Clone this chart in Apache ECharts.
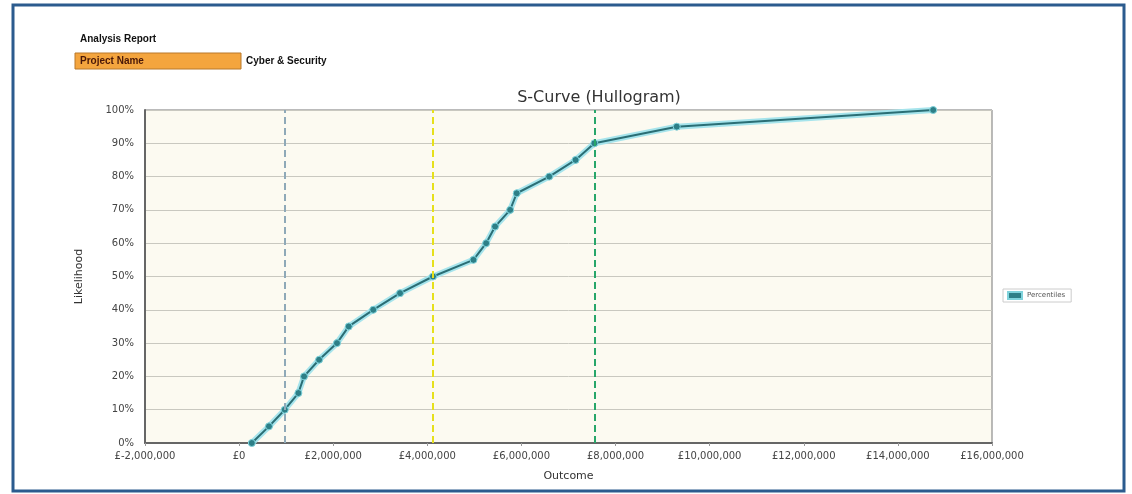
<!DOCTYPE html>
<html>
<head>
<meta charset="utf-8">
<script src="https://cdn.jsdelivr.net/npm/echarts@6/dist/echarts.min.js"></script>
<style>
html,body{margin:0;padding:0;background:#fff;}
#chart{width:1132px;height:494px;}
</style>
</head>
<body>
<div id="chart"></div>
<script>
// ---- data ----
var percentiles = [0, 5, 10, 15, 20, 25, 30, 35, 40, 45, 50, 55, 60, 65, 70, 75, 80, 85, 90, 95, 100];
var outcomes = [270000, 635000, 970000, 1260000, 1380000, 1700000, 2080000, 2330000, 2850000, 3420000,
                4120000, 4980000, 5250000, 5440000, 5760000, 5900000, 6590000, 7150000, 7550000, 9300000, 14750000];
var markerValues = [970000, 4110000, 7550000];   // P10, P50, P90 lines
var markerColors = ['#8fa9b8', '#e6e01c', '#27a66a'];
var seriesName = 'Percentiles';
var chartTitle = 'S-Curve (Hullogram)';
var xAxisName = 'Outcome';
var yAxisName = 'Likelihood';
var headerTitle = 'Analysis Report';
var projectLabel = 'Project Name';
var projectValue = 'Cyber & Security';

var pts = outcomes.map(function (v, i) { return [v, percentiles[i] / 100]; });

function fmtMoney(v) {
  var neg = v < 0;
  var s = Math.abs(v).toString().replace(/\B(?=(\d{3})+(?!\d))/g, ',');
  return neg ? '£-' + s : '£' + s;
}

var chart = echarts.init(document.getElementById('chart'));
var font = 'DejaVu Sans';
chart.setOption({
  backgroundColor: '#ffffff',
  animation: false,
  title: {
    text: chartTitle,
    left: 594, top: 85,
    textAlign: 'center',
    textStyle: { fontFamily: font, fontSize: 16, fontWeight: 'normal', color: '#333' }
  },
  legend: {
    data: [seriesName],
    left: 1003, top: 289,
    orient: 'vertical',
    icon: 'rect',
    itemWidth: 14, itemHeight: 7,
    itemGap: 4,
    padding: [2, 6, 2, 4],
    borderColor: '#cccccc', borderWidth: 1,
    textStyle: { fontFamily: font, fontSize: 7, color: '#555' }
  },
  grid: {
    left: 145, right: 140, top: 110, bottom: 51,
    show: true, backgroundColor: '#fcfaf1', borderColor: '#777', borderWidth: 1
  },
  xAxis: {
    type: 'value', min: -2000000, max: 16000000, interval: 2000000,
    name: xAxisName, nameLocation: 'middle', nameGap: 28,
    nameTextStyle: { fontFamily: font, fontSize: 11, color: '#333' },
    axisLine: { show: true, onZero: false, lineStyle: { color: '#666', width: 2 } },
    axisTick: { show: true, length: 3, lineStyle: { color: '#999' } },
    axisLabel: { formatter: fmtMoney, fontFamily: font, fontSize: 10, color: '#444', margin: 8 },
    splitLine: { show: false }
  },
  yAxis: {
    type: 'value', min: 0, max: 1, interval: 0.1,
    name: yAxisName, nameLocation: 'middle', nameGap: 60, nameRotate: 90,
    nameTextStyle: { fontFamily: font, fontSize: 11, color: '#333' },
    axisLine: { show: true, onZero: false, lineStyle: { color: '#666', width: 2 } },
    axisTick: { show: false },
    axisLabel: {
      formatter: function (v) { return Math.round(v * 100) + '%'; },
      fontFamily: font, fontSize: 10, color: '#444', margin: 11
    },
    splitLine: { show: true, lineStyle: { color: '#c9c8c0', width: 1 } }
  },
  series: [
    {
      name: 'glow', type: 'line', data: pts, silent: true, symbol: 'none',
      lineStyle: { color: '#a6e4ec', width: 6 }, z: 1
    },
    {
      name: seriesName, type: 'line', data: pts,
      symbol: 'circle', symbolSize: 7,
      itemStyle: { color: '#2d7f87', borderColor: '#7fd3dc', borderWidth: 1 },
      lineStyle: { color: '#2a6e75', width: 2 },
      z: 3,
      markLine: {
        silent: true, symbol: 'none', label: { show: false },
        data: markerValues.map(function (v, i) {
          return { xAxis: v, lineStyle: { color: markerColors[i], type: [7, 4], width: 2 } };
        })
      }
    }
  ],
  graphic: [
    { type: 'rect', shape: { x: 13, y: 5, width: 1111, height: 486 },
      style: { fill: 'none', stroke: '#2b5b8e', lineWidth: 3 }, z: 100 },
    { type: 'text', left: 80, top: 34,
      style: { text: headerTitle, font: 'bold 10px "Liberation Sans"', fill: '#111' } },
    { type: 'rect', shape: { x: 75, y: 53, width: 166, height: 16 },
      style: { fill: '#f4a53e', stroke: '#b9782a', lineWidth: 1 } },
    { type: 'text', left: 80, top: 56,
      style: { text: projectLabel, font: 'bold 10px "Liberation Sans"', fill: '#4a1808' } },
    { type: 'text', left: 246, top: 56,
      style: { text: projectValue, font: 'bold 10px "Liberation Sans"', fill: '#111' } }
  ]
});
</script>
</body>
</html>
